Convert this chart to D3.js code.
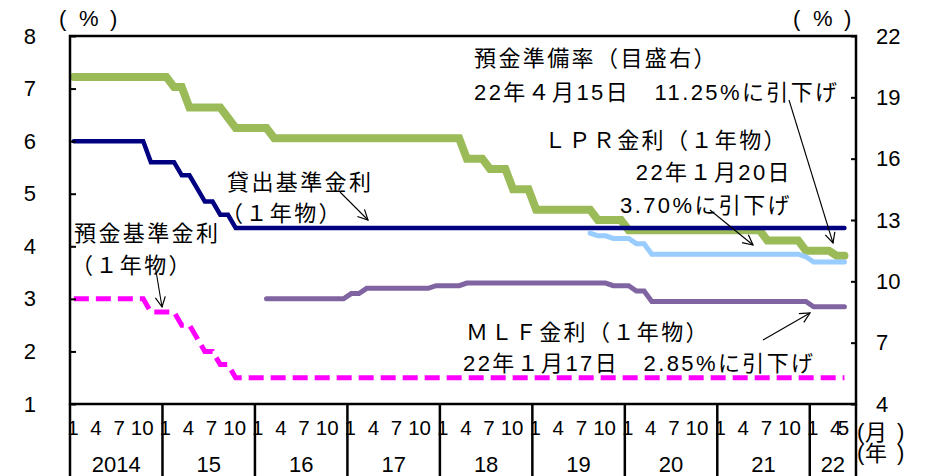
<!DOCTYPE html>
<html>
<head>
<meta charset="utf-8">
<script src="https://cdn.jsdelivr.net/npm/d3@7"></script>
<style>
  html, body { margin: 0; padding: 0; background: #fff; }
  svg { display: block; font-family: "Liberation Sans", "Noto Sans CJK JP", sans-serif; }
</style>
</head>
<body>
<svg id="chart" width="928" height="476"></svg>
<script>
// ---- data (month-end values, %) ----
const years = ["2014", "15", "16", "17", "18", "19", "20", "21", "22"];
const monthTicks = [[1,4,7,10],[1,4,7,10],[1,4,7,10],[1,4,7,10],[1,4,7,10],[1,4,7,10],[1,4,7,10],[1,4,7,10],[1,4,5]];
const axisEnd = "2022-06";

// 貸出基準金利（1年物） from 2014-01
const lendingStart = "2014-01";
const lendingRate = [
  6.00,6.00,6.00,6.00,6.00,6.00,6.00,6.00,6.00,6.00,5.60,5.60,
  5.60,5.60,5.35,5.35,5.10,4.85,4.85,4.60,4.60,4.35,4.35,4.35,
  4.35,4.35,4.35,4.35,4.35,4.35,4.35,4.35,4.35,4.35,4.35,4.35,
  4.35,4.35,4.35,4.35,4.35,4.35,4.35,4.35,4.35,4.35,4.35,4.35,
  4.35,4.35,4.35,4.35,4.35,4.35,4.35,4.35,4.35,4.35,4.35,4.35,
  4.35,4.35,4.35,4.35,4.35,4.35,4.35,4.35,4.35,4.35,4.35,4.35,
  4.35,4.35,4.35,4.35,4.35,4.35,4.35,4.35,4.35,4.35,4.35,4.35,
  4.35,4.35,4.35,4.35,4.35,4.35,4.35,4.35,4.35,4.35,4.35,4.35,
  4.35,4.35,4.35,4.35,4.35
];

// 預金基準金利（1年物） from 2014-01
const depositStart = "2014-01";
const depositRate = [
  3.00,3.00,3.00,3.00,3.00,3.00,3.00,3.00,3.00,3.00,2.75,2.75,
  2.75,2.75,2.50,2.50,2.25,2.00,2.00,1.75,1.75,1.50,1.50,1.50,
  1.50,1.50,1.50,1.50,1.50,1.50,1.50,1.50,1.50,1.50,1.50,1.50,
  1.50,1.50,1.50,1.50,1.50,1.50,1.50,1.50,1.50,1.50,1.50,1.50,
  1.50,1.50,1.50,1.50,1.50,1.50,1.50,1.50,1.50,1.50,1.50,1.50,
  1.50,1.50,1.50,1.50,1.50,1.50,1.50,1.50,1.50,1.50,1.50,1.50,
  1.50,1.50,1.50,1.50,1.50,1.50,1.50,1.50,1.50,1.50,1.50,1.50,
  1.50,1.50,1.50,1.50,1.50,1.50,1.50,1.50,1.50,1.50,1.50,1.50,
  1.50,1.50,1.50,1.50,1.50
];

// 預金準備率（右軸） from 2014-01
const reserveStart = "2014-01";
const reserveRatio = [
  20.0,20.0,20.0,20.0,20.0,20.0,20.0,20.0,20.0,20.0,20.0,20.0,
  20.0,19.5,19.5,18.5,18.5,18.5,18.5,18.5,18.0,17.5,17.5,17.5,
  17.5,17.5,17.0,17.0,17.0,17.0,17.0,17.0,17.0,17.0,17.0,17.0,
  17.0,17.0,17.0,17.0,17.0,17.0,17.0,17.0,17.0,17.0,17.0,17.0,
  17.0,17.0,17.0,16.0,16.0,16.0,15.5,15.5,15.5,14.5,14.5,14.5,
  13.5,13.5,13.5,13.5,13.5,13.5,13.5,13.5,13.0,13.0,13.0,13.0,
  12.5,12.5,12.5,12.5,12.5,12.5,12.5,12.5,12.5,12.5,12.5,12.5,
  12.5,12.5,12.5,12.5,12.5,12.5,12.0,12.0,12.0,12.0,12.0,11.5,
  11.5,11.5,11.5,11.25,11.25
];

// LPR（1年物） from 2019-08
const lprStart = "2019-08";
const lprRate = [
  4.25,4.20,4.20,4.15,4.15,
  4.15,4.05,4.05,3.85,3.85,3.85,3.85,3.85,3.85,3.85,3.85,3.85,
  3.85,3.85,3.85,3.85,3.85,3.85,3.85,3.85,3.85,3.85,3.85,3.80,
  3.70,3.70,3.70,3.70,3.70
];

// MLF金利（1年物） from 2016-02
const mlfStart = "2016-02";
const mlfRate = [
  3.00,3.00,3.00,3.00,3.00,3.00,3.00,3.00,3.00,3.00,3.00,
  3.10,3.10,3.20,3.20,3.20,3.20,3.20,3.20,3.20,3.20,3.20,3.25,
  3.25,3.25,3.25,3.30,3.30,3.30,3.30,3.30,3.30,3.30,3.30,3.30,
  3.30,3.30,3.30,3.30,3.30,3.30,3.30,3.30,3.30,3.30,3.25,3.25,
  3.25,3.15,3.15,2.95,2.95,2.95,2.95,2.95,2.95,2.95,2.95,2.95,
  2.95,2.95,2.95,2.95,2.95,2.95,2.95,2.95,2.95,2.95,2.95,2.95,
  2.85,2.85,2.85,2.85,2.85
];

const leftTicks = [1, 2, 3, 4, 5, 6, 7, 8];
const rightTicks = [4, 7, 10, 13, 16, 19, 22];

// ---- layout ----
const W = 928, H = 476;
const plot = { left: 70, right: 856, top: 36, bottom: 404 };
const FONT = 22;

const svg = d3.select("#chart");

// month keys along the axis
const pad = n => String(n).padStart(2, "0");
const monthKeys = [];
years.forEach((y, i) => {
  const fy = 2014 + i;
  for (let m = 1; m <= 12; m++) {
    const k = fy + "-" + pad(m);
    monthKeys.push(k);
    if (k === axisEnd) break;
  }
});

const x = d3.scaleBand().domain(monthKeys).range([plot.left, plot.right]).padding(0);
const bw = x.bandwidth();
const xc = k => x(k) + bw / 2;
const yL = d3.scaleLinear().domain([1, 8]).range([plot.bottom, plot.top]);
const yR = d3.scaleLinear().domain([4, 22]).range([plot.bottom, plot.top]);

function toPoints(start, values) {
  const i0 = monthKeys.indexOf(start);
  return values.map((v, i) => ({ key: monthKeys[i0 + i], v }));
}

// ---- series ----
const series = [
  { pts: toPoints(reserveStart, reserveRatio), y: yR, color: "#9bbb59", width: 8 },
  { pts: toPoints(lendingStart, lendingRate), y: yL, color: "#000080", width: 4.5 },
  { pts: toPoints(lprStart, lprRate), y: yL, color: "#99ccff", width: 5 },
  { pts: toPoints(mlfStart, mlfRate), y: yL, color: "#8064a2", width: 5 },
  { pts: toPoints(depositStart, depositRate), y: yL, color: "#ff00ff", width: 5, dash: "15,7" }
];

const gLines = svg.append("g");
series.forEach(s => {
  const line = d3.line().x(d => xc(d.key)).y(d => s.y(d.v));
  gLines.append("path")
    .attr("d", line(s.pts))
    .attr("fill", "none")
    .attr("stroke", s.color)
    .attr("stroke-width", s.width)
    .attr("stroke-linejoin", "miter")
    .attr("stroke-linecap", s.dash ? "butt" : "round")
    .attr("stroke-dasharray", s.dash || null);
});

// ---- frame and axes ----
svg.append("rect")
  .attr("x", plot.left).attr("y", plot.top)
  .attr("width", plot.right - plot.left).attr("height", plot.bottom - plot.top)
  .attr("fill", "none").attr("stroke", "#000").attr("stroke-width", 2.5);

const axL = svg.append("g").attr("transform", `translate(${plot.left},0)`)
  .call(d3.axisLeft(yL).tickValues(leftTicks).tickFormat(d3.format("d"))
    .tickSizeInner(-6).tickSizeOuter(0).tickPadding(34));
const axR = svg.append("g").attr("transform", `translate(${plot.right},0)`)
  .call(d3.axisRight(yR).tickValues(rightTicks).tickFormat(d3.format("d"))
    .tickSizeInner(-5).tickSizeOuter(0).tickPadding(20));
[axL, axR].forEach(a => {
  a.select(".domain").remove();
  a.selectAll(".tick line").attr("stroke", "#000").attr("stroke-width", 2);
  a.selectAll(".tick text").attr("font-size", FONT).attr("fill", "#000")
    .attr("font-family", "Liberation Sans, Noto Sans CJK JP, sans-serif");
});

// unit labels: ( % )
function unitLabel(x0) {
  const g = svg.append("g").attr("font-size", FONT);
  g.append("text").attr("x", x0).attr("y", 26).text("(");
  g.append("text").attr("x", x0 + 20).attr("y", 26).text("%");
  g.append("text").attr("x", x0 + 51).attr("y", 26).text(")");
}
unitLabel(59);
unitLabel(793);

// ---- lower category axis (months / years) ----
const gx = svg.append("g");
const yearBounds = years.map((y, i) => {
  const first = (2014 + i) + "-01";
  const keys = monthKeys.filter(k => k.startsWith(String(2014 + i)));
  const last = keys[keys.length - 1];
  return { label: y, x0: x(first), x1: x(last) + bw, year: 2014 + i };
});
yearBounds.forEach((b, i) => {
  gx.append("line").attr("x1", b.x0).attr("x2", b.x0).attr("y1", plot.bottom).attr("y2", H)
    .attr("stroke", "#000").attr("stroke-width", 2.5);
  gx.append("text").attr("x", (b.x0 + b.x1) / 2).attr("y", 472)
    .attr("text-anchor", "middle").attr("font-size", FONT).text(b.label);
  monthTicks[i].forEach(m => {
    const k = b.year + "-" + pad(m);
    gx.append("text").attr("x", xc(k) - 1).attr("y", 435)
      .attr("text-anchor", "middle").attr("font-size", 20.5).text(m);
  });
});
gx.append("line").attr("x1", plot.right).attr("x2", plot.right).attr("y1", plot.bottom).attr("y2", H)
  .attr("stroke", "#000").attr("stroke-width", 2.5);

// unit captions (月) / (年)
[["月", 440], ["年", 461]].forEach(([ch, by]) => {
  gx.append("text").attr("x", 857).attr("y", by - 1).attr("font-size", 22).text("(");
  gx.append("text").attr("x", 876).attr("y", by).attr("text-anchor", "middle")
    .attr("font-size", 22).text(ch);
  gx.append("text").attr("x", 897).attr("y", by - 1).attr("font-size", 22).text(")");
});

// ---- annotations ----
const notes = [
  { t: "預金準備率（目盛右）", x: 474, y: 66 },
  { t: "22年４月15日　11.25%に引下げ", x: 474, y: 100 },
  { t: "ＬＰＲ金利（１年物）", x: 544, y: 148 },
  { t: "22年１月20日", x: 792, y: 180, anchor: "end" },
  { t: "3.70%に引下げ", x: 792, y: 213, anchor: "end" },
  { t: "貸出基準金利", x: 227, y: 190 },
  { t: "（１年物）", x: 221, y: 221 },
  { t: "預金基準金利", x: 74, y: 241 },
  { t: "（１年物）", x: 71, y: 273 },
  { t: "ＭＬＦ金利（１年物）", x: 466, y: 340 },
  { t: "22年１月17日　2.85%に引下げ", x: 463, y: 371 }
];
const gN = svg.append("g");
notes.forEach(n => {
  gN.append("text").attr("x", n.x).attr("y", n.y)
    .attr("text-anchor", n.anchor || "start")
    .attr("font-size", FONT).attr("letter-spacing", 2.4)
    .attr("fill", "#000").text(n.t);
});

svg.append("defs").append("marker")
  .attr("id", "arr").attr("viewBox", "0 0 12 12").attr("refX", 11).attr("refY", 6)
  .attr("markerWidth", 12).attr("markerHeight", 12).attr("markerUnits", "userSpaceOnUse")
  .attr("orient", "auto")
  .append("path").attr("d", "M1,1 L11,6 L1,11").attr("fill", "none")
  .attr("stroke", "#000").attr("stroke-width", 1.2);

// leader lines from labels to their series
const leaders = [
  [340, 192, 368, 220],
  [155, 265, 162, 307],
  [789, 100, 833, 243],
  [710, 210, 753, 245],
  [763, 340, 810, 313]
];
leaders.forEach(a => {
  gN.append("line").attr("x1", a[0]).attr("y1", a[1]).attr("x2", a[2]).attr("y2", a[3])
    .attr("stroke", "#000").attr("stroke-width", 1.1).attr("marker-end", "url(#arr)");
});
</script>
</body>
</html>
